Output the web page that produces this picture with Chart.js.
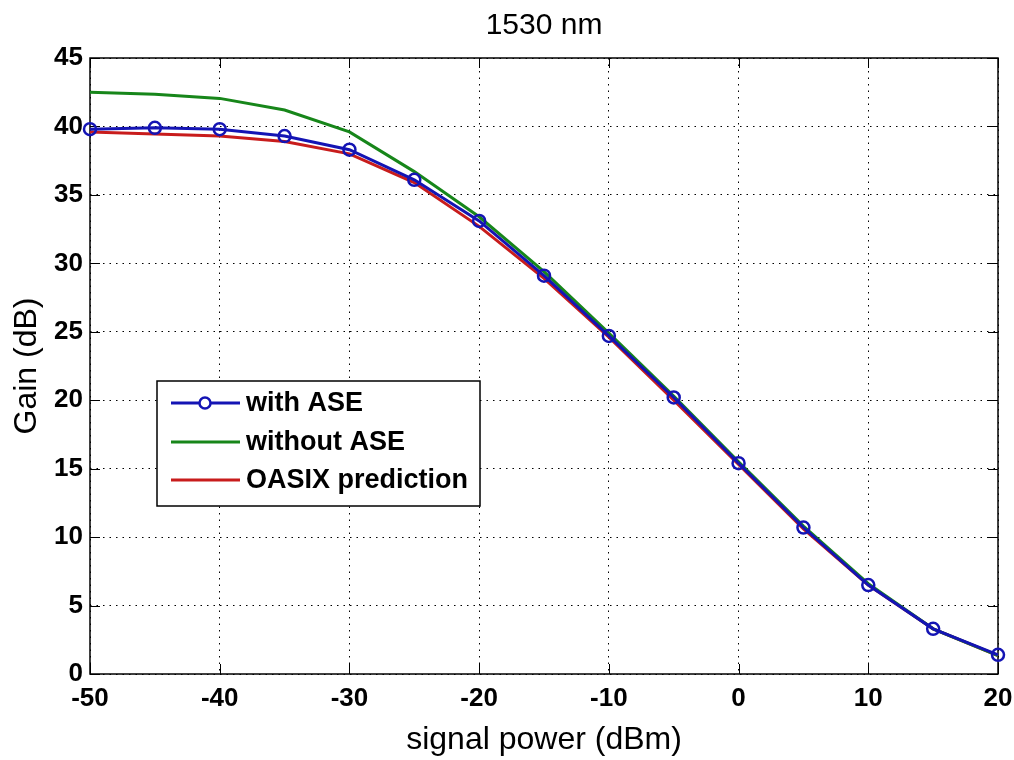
<!DOCTYPE html>
<html>
<head>
<meta charset="utf-8">
<script src="https://cdn.jsdelivr.net/npm/chart.js@4/dist/chart.umd.min.js"></script>
<style>
  html, body { margin: 0; padding: 0; background: #fff; }
  #wrap { width: 1014px; height: 760px; }
</style>
</head>
<body>
<div id="wrap"><canvas id="gain"></canvas></div>
<script>
// signal power sweep (dBm) and gain curves (dB) at 1530 nm
const power = [-50, -45, -40, -35, -30, -25, -20, -15, -10, -5, 0, 5, 10, 15, 20];
const gainWithASE = [39.8, 39.9, 39.8, 39.3, 38.3, 36.1, 33.1, 29.1, 24.7, 20.2, 15.4, 10.7, 6.5, 3.3, 1.4];
const gainWithoutASE = [42.5, 42.35, 42.05, 41.2, 39.6, 36.7, 33.4, 29.4, 24.9, 20.3, 15.5, 10.8, 6.6, 3.3, 1.35];
const gainOasix = [39.6, 39.45, 39.3, 38.9, 38.0, 35.9, 32.7, 28.9, 24.6, 20.0, 15.3, 10.6, 6.5, 3.3, 1.35];

const xTicks = [-50, -40, -30, -20, -10, 0, 10, 20];
const yTicks = [0, 5, 10, 15, 20, 25, 30, 35, 40, 45];

const FONT = "'Liberation Sans', Arial, sans-serif";

const toPoints = ys => power.map((x, i) => ({ x, y: ys[i] }));

// box, inward ticks, title and in-plot legend, matlab style
const matlabAxes = {
  id: 'matlabAxes',
  beforeDatasetsDraw(chart) {
    const { ctx, chartArea: a, scales } = chart;
    ctx.save();
    ctx.strokeStyle = '#000';
    ctx.lineWidth = 1;
    ctx.beginPath();
    xTicks.forEach(v => {
      const px = Math.round(scales.x.getPixelForValue(v)) + 0.5;
      ctx.moveTo(px, a.bottom); ctx.lineTo(px, a.bottom - 10);
      ctx.moveTo(px, a.top); ctx.lineTo(px, a.top + 10);
    });
    yTicks.forEach(v => {
      const py = Math.round(scales.y.getPixelForValue(v)) + 0.5;
      ctx.moveTo(a.left, py); ctx.lineTo(a.left + 10, py);
      ctx.moveTo(a.right, py); ctx.lineTo(a.right - 10, py);
    });
    ctx.stroke();
    ctx.lineWidth = 1.5;
    ctx.strokeRect(a.left, a.top, a.right - a.left, a.bottom - a.top);
    ctx.restore();
  },
  afterDraw(chart) {
    const { ctx, chartArea: a } = chart;
    ctx.save();
    ctx.fillStyle = '#000';
    ctx.font = '30px ' + FONT;
    ctx.textAlign = 'center';
    ctx.textBaseline = 'middle';
    ctx.fillText('1530 nm', (a.left + a.right) / 2, 26);

    // legend box
    const box = { x: 157, y: 381, w: 323, h: 125 };
    ctx.fillStyle = '#fff';
    ctx.fillRect(box.x, box.y, box.w, box.h);
    ctx.strokeStyle = '#000';
    ctx.lineWidth = 1.5;
    ctx.strokeRect(box.x, box.y, box.w, box.h);
    const rows = [403, 442, 480];
    ctx.font = 'bold 27px ' + FONT;
    ctx.textAlign = 'left';
    chart.data.datasets.forEach((ds, i) => {
      const y = rows[i];
      ctx.strokeStyle = ds.borderColor;
      ctx.lineWidth = 3;
      ctx.beginPath();
      ctx.moveTo(171, y); ctx.lineTo(240, y);
      ctx.stroke();
      if (ds.pointRadius > 0) {
        ctx.fillStyle = '#fff';
        ctx.lineWidth = 2.5;
        ctx.beginPath();
        ctx.arc(205, y, 5.5, 0, Math.PI * 2);
        ctx.fill();
        ctx.stroke();
      }
      ctx.fillStyle = '#000';
      ctx.fillText(ds.label, 246, y + 1);
    });
    ctx.restore();
  }
};

new Chart(document.getElementById('gain'), {
  type: 'line',
  data: {
    datasets: [
      {
        label: 'with ASE',
        data: toPoints(gainWithASE),
        borderColor: '#1414b4',
        borderWidth: 3,
        pointRadius: 6,
        pointBorderWidth: 2.5,
        pointBorderColor: '#1414b4',
        pointBackgroundColor: 'rgba(0,0,0,0)',
        tension: 0,
        clip: 10
      },
      {
        label: 'without ASE',
        data: toPoints(gainWithoutASE),
        borderColor: '#17861a',
        borderWidth: 3,
        pointRadius: 0,
        tension: 0
      },
      {
        label: 'OASIX prediction',
        data: toPoints(gainOasix),
        borderColor: '#c81c1c',
        borderWidth: 3,
        pointRadius: 0,
        tension: 0
      }
    ]
  },
  options: {
    responsive: true,
    maintainAspectRatio: false,
    animation: false,
    layout: { padding: { top: 58, right: 16, left: 0, bottom: 0 } },
    plugins: {
      legend: { display: false },
      tooltip: { enabled: false },
      title: { display: false }
    },
    scales: {
      x: {
        type: 'linear',
        min: -50,
        max: 20,
        afterBuildTicks: s => { s.ticks = xTicks.map(value => ({ value })); },
        afterFit: s => { s.height = 86; s.paddingLeft = 0; s.paddingRight = 0; },
        grid: { color: '#000', lineWidth: 1, drawTicks: false },
        border: { display: false, dash: [1.5, 5] },
        ticks: {
          color: '#000',
          padding: 9,
          maxRotation: 0,
          font: { family: FONT, size: 26, weight: 'bold' }
        },
        title: {
          display: true,
          text: 'signal power (dBm)',
          color: '#000',
          font: { family: FONT, size: 32, lineHeight: 1.2 },
          padding: { top: 0, bottom: 1 }
        }
      },
      y: {
        min: 0,
        max: 45,
        afterBuildTicks: s => { s.ticks = yTicks.map(value => ({ value })); },
        afterFit: s => { s.width = 90; },
        grid: { color: '#000', lineWidth: 1, drawTicks: false },
        border: { display: false, dash: [1.5, 5] },
        ticks: {
          color: '#000',
          padding: 7,
          font: { family: FONT, size: 26, weight: 'bold' }
        },
        title: {
          display: true,
          text: 'Gain (dB)',
          color: '#000',
          font: { family: FONT, size: 32, lineHeight: 1.2 },
          padding: { top: 8, bottom: 0 }
        }
      }
    }
  },
  plugins: [matlabAxes]
});
</script>
</body>
</html>
